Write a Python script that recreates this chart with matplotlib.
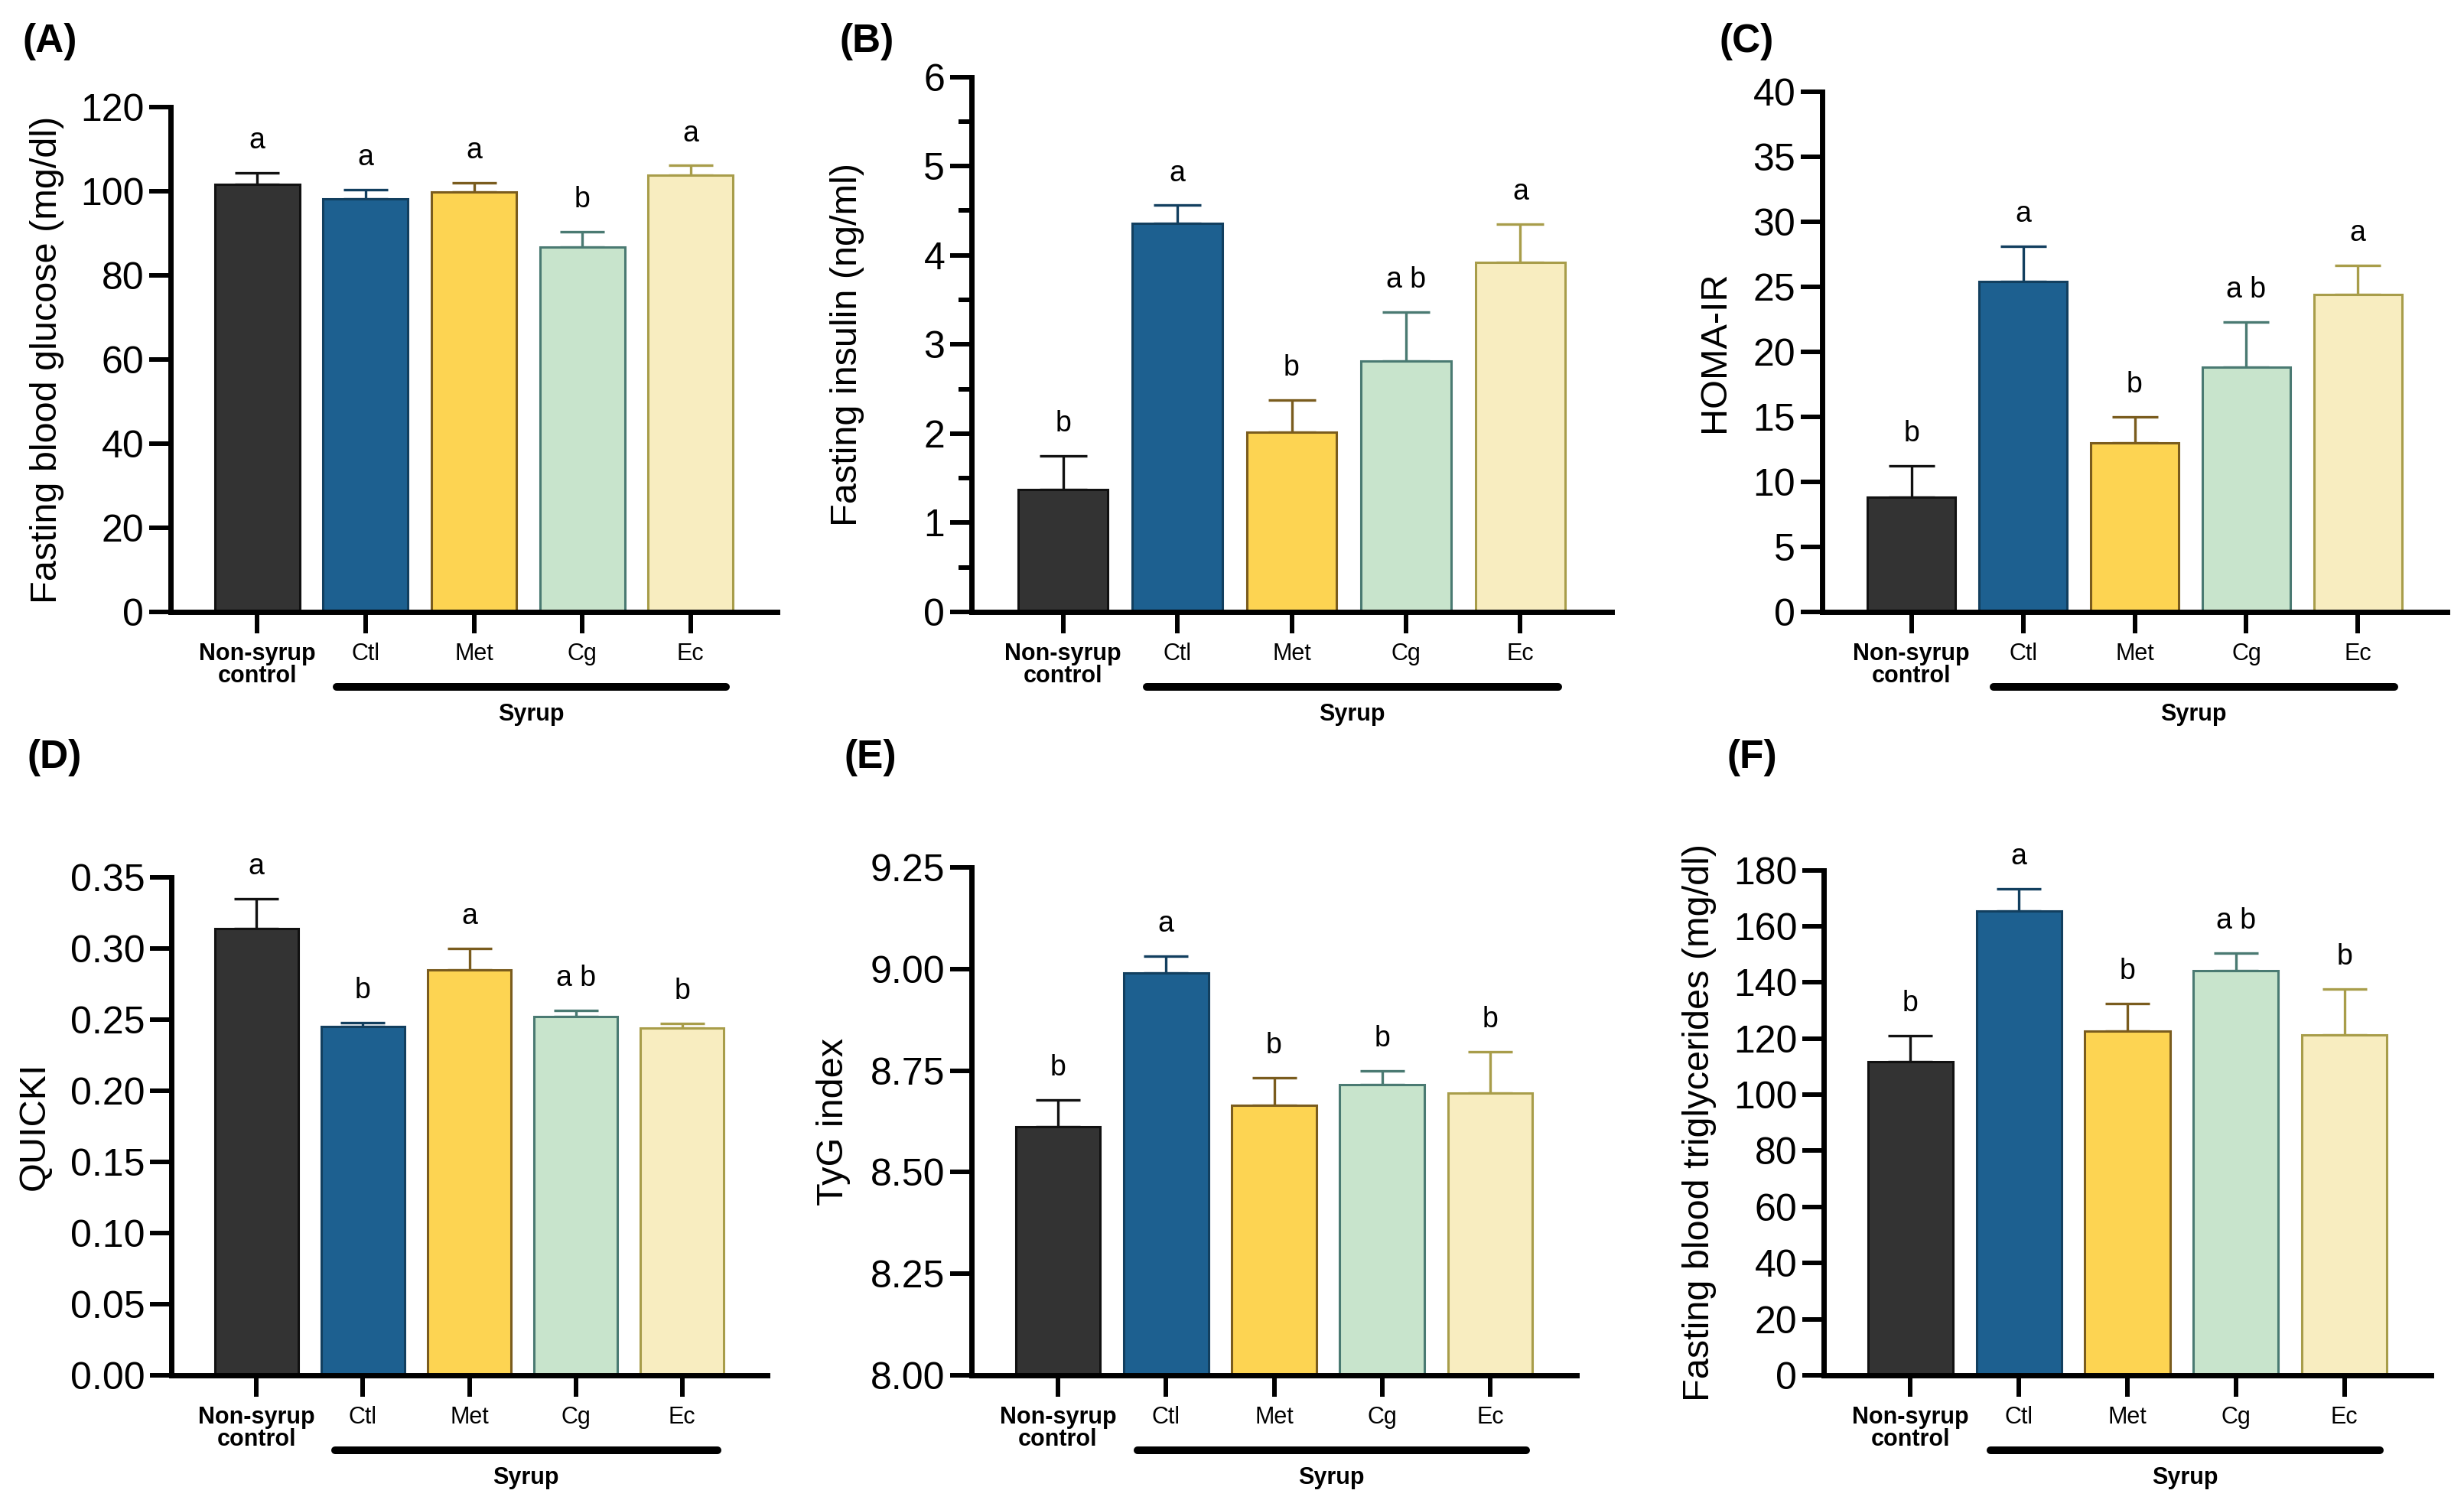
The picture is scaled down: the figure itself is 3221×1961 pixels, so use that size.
import numpy as np
import matplotlib
matplotlib.use('Agg')
import matplotlib.pyplot as plt
from matplotlib.ticker import MultipleLocator, FormatStrFormatter
from matplotlib.transforms import ScaledTranslation

plt.rcParams['font.family'] = ['Liberation Sans', 'DejaVu Sans']

# Gruppen
groups = ['Non-syrup\ncontrol', 'Ctl', 'Met', 'Cg', 'Ec']
fill_colors = ['#333333', '#1d6090', '#fdd452', '#c8e4cc', '#f8edc0']
edge_colors = ['#111111', '#123f5f', '#7a5c1e', '#4a7a72', '#a89d4a']

# Werte (Mittelwert, oberer Fehler)
glucose = [101.7, 98.1, 99.8, 86.8, 103.9]
glucose_err = [2.7, 2.2, 2.2, 3.6, 2.2]
glucose_letters = ['a', 'a', 'a', 'b', 'a']

insulin = [1.37, 4.36, 2.02, 2.81, 3.92]
insulin_err = [0.38, 0.20, 0.36, 0.55, 0.43]
insulin_letters = ['b', 'a', 'b', 'a b', 'a']

homa = [8.8, 25.4, 13.0, 18.8, 24.4]
homa_err = [2.45, 2.74, 2.02, 3.49, 2.26]
homa_letters = ['b', 'a', 'b', 'a b', 'a']

quicki = [0.314, 0.2454, 0.2852, 0.2522, 0.244]
quicki_err = [0.021, 0.0027, 0.0148, 0.0041, 0.0034]
quicki_letters = ['a', 'b', 'a', 'a b', 'b']

tyg = [8.611, 8.990, 8.665, 8.716, 8.695]
tyg_err = [0.067, 0.041, 0.068, 0.033, 0.102]
tyg_letters = ['b', 'a', 'b', 'b', 'b']

tg = [111.8, 165.4, 122.6, 144.2, 121.2]
tg_err = [9.2, 8.0, 9.9, 6.2, 16.5]
tg_letters = ['b', 'a', 'b', 'a b', 'b']

W, H = 3221, 1961
DPI = 100
fig = plt.figure(figsize=(W / DPI, H / DPI), dpi=DPI)


def make_axes(left, right, top, bottom):
    # Pixelkoordinaten -> Figurenbruchteile
    return fig.add_axes([left / W, 1 - bottom / H, (right - left) / W, (bottom - top) / H])


def panel(ax, values, errors, letters, ylabel, ymin, ymax, step, fmt=None,
          minor=None, ylabel_off=160):
    x = np.arange(len(values))
    heights = np.array(values) - ymin
    ax.bar(x, heights, bottom=ymin, width=0.785, color=fill_colors,
           edgecolor=edge_colors, linewidth=2.2, zorder=2)

    width_px = ax.get_position().width * W
    # capsize ist die halbe Kappenlaenge
    cap_pt = 0.5 * 0.53 * 0.785 * (width_px / 5.6) * 72 / DPI
    for i in x:
        ax.errorbar(i, values[i], yerr=[[0], [errors[i]]], fmt='none',
                    ecolor=edge_colors[i], elinewidth=2.4, capsize=cap_pt,
                    capthick=2.4, zorder=1.5)
        ax.annotate(letters[i], (i, values[i] + errors[i]), xytext=(0, 23),
                    textcoords='offset points', ha='center', va='baseline',
                    fontsize=27)

    ax.set_xlim(-0.8, 4.8)
    ax.set_ylim(ymin, ymax)
    ax.yaxis.set_major_locator(MultipleLocator(step))
    if fmt:
        ax.yaxis.set_major_formatter(FormatStrFormatter(fmt))
    if minor:
        ax.yaxis.set_minor_locator(MultipleLocator(minor))
        ax.tick_params(axis='y', which='minor', length=12, width=4.3)

    for side in ['top', 'right']:
        ax.spines[side].set_visible(False)
    for side in ['left', 'bottom']:
        ax.spines[side].set_linewidth(5)

    ax.tick_params(axis='y', which='major', length=20, width=4.3,
                   labelsize=36, pad=5)
    ax.tick_params(axis='x', length=20, width=4.3, labelsize=22, pad=9)
    ax.set_xticks(x)
    ax.set_xticklabels(groups)
    for lab in ax.get_xticklabels():
        lab.set_linespacing(0.95)
    ax.get_xticklabels()[0].set_fontweight('bold')

    ax.set_ylabel(ylabel, fontsize=35, va='center')
    ax.yaxis.set_label_coords(-ylabel_off / width_px, 0.5)

    # Balken unter den Sirup-Gruppen
    trans = ax.get_xaxis_transform() + ScaledTranslation(0, -98 / DPI, fig.dpi_scale_trans)
    ax.plot([0.735, 4.33], [0, 0], transform=trans, color='black', lw=7.2,
            solid_capstyle='round', clip_on=False)
    trans2 = ax.get_xaxis_transform() + ScaledTranslation(0, -134 / DPI, fig.dpi_scale_trans)
    ax.text(2.53, 0, 'Syrup', transform=trans2, ha='center', va='center',
            fontsize=22, fontweight='bold')


axA = make_axes(223, 1016, 140, 800)
axB = make_axes(1270, 2107, 100.6, 800)
axC = make_axes(2382, 3199, 120, 800)
axD = make_axes(224, 1003, 1147, 1798)
axE = make_axes(1270, 2061, 1134, 1798)
axF = make_axes(2384, 3178, 1137.5, 1798)

panel(axA, glucose, glucose_err, glucose_letters, 'Fasting blood glucose (mg/dl)',
      0, 120, 20, ylabel_off=161)
panel(axB, insulin, insulin_err, insulin_letters, 'Fasting insulin (ng/ml)',
      0, 6, 1, minor=0.5, ylabel_off=163)
panel(axC, homa, homa_err, homa_letters, 'HOMA-IR', 0, 40, 5, ylabel_off=140)
panel(axD, quicki, quicki_err, quicki_letters, 'QUICKI', 0, 0.35, 0.05,
      fmt='%.2f', ylabel_off=179)
panel(axE, tyg, tyg_err, tyg_letters, 'TyG index', 8.0, 9.25, 0.25,
      fmt='%.2f', ylabel_off=181)
panel(axF, tg, tg_err, tg_letters, 'Fasting blood triglycerides (mg/dl)',
      0, 180, 20, ylabel_off=162)

# Panelbeschriftungen
for lab, px, py in [('(A)', 30, 30), ('(B)', 1098, 30), ('(C)', 2247, 30),
                    ('(D)', 36, 966), ('(E)', 1104, 966), ('(F)', 2257, 966)]:
    fig.text(px / W, 1 - py / H, lab, ha='left', va='top', fontsize=37,
             fontweight='bold')

fig.savefig('out.png', dpi=DPI, facecolor='white')
